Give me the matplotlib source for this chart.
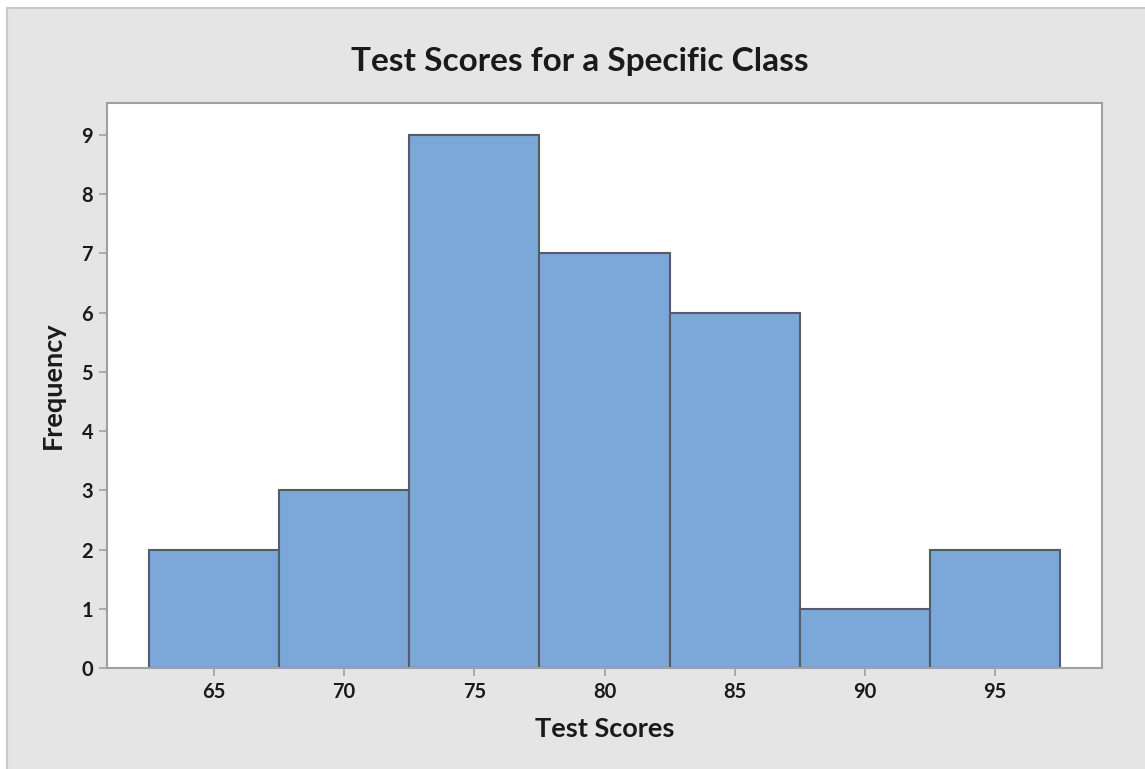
import matplotlib
matplotlib.use("Agg")
import matplotlib.pyplot as plt
from matplotlib.patches import Rectangle

bin_centers = [65, 70, 75, 80, 85, 90, 95]
frequencies = [2, 3, 9, 7, 6, 1, 2]
x_ticks = [65, 70, 75, 80, 85, 90, 95]
y_ticks = [0, 1, 2, 3, 4, 5, 6, 7, 8, 9]
title = "Test Scores for a Specific Class"
xlabel = "Test Scores"
ylabel = "Frequency"

plt.rcParams['font.family'] = ['Lato', 'DejaVu Sans']

W, H = 1145, 769
fig = plt.figure(figsize=(W / 100, H / 100), dpi=100, facecolor='white')
# outer gray panel with border at top/left
fig.patches.append(Rectangle((7 / W, -0.05), 1.2, 1 - 8 / H + 0.05, transform=fig.transFigure,
                             facecolor='#e5e5e5', edgecolor='#c9c9c9', linewidth=1.5, zorder=-5))

ax = fig.add_axes([107 / W, (H - 668) / H, (1102 - 107) / W, (668 - 103) / H])
ax.set_zorder(1)
ax.set_facecolor('white')
ax.bar(bin_centers, frequencies, width=5, align='center', color='#7ba7d9',
       edgecolor='#545c66', linewidth=1.5, zorder=2)
ax.set_xlim(60.89, 99.11)
ax.set_ylim(0, 9.54)
ax.set_xticks(x_ticks)
ax.set_yticks(y_ticks)
for s in ax.spines.values():
    s.set_color('#a0a0a0')
    s.set_linewidth(1.5)
ax.tick_params(axis='both', colors='#a0a0a0', length=6, width=1.2, labelcolor='#1a1a1a',
               labelsize=14.5, pad=4)
for lab in ax.get_xticklabels() + ax.get_yticklabels():
    lab.set_fontweight('bold')
ax.set_xlabel(xlabel, fontsize=19.5, fontweight='bold', color='#1a1a1a', labelpad=11)
ax.set_ylabel(ylabel, fontsize=19.5, fontweight='bold', color='#1a1a1a', labelpad=12)
fig.text(580 / W, 1 - 62 / H, title, ha='center', va='center', fontsize=24,
         fontweight='bold', color='#1a1a1a')

fig.savefig('out.png', dpi=100, facecolor=fig.get_facecolor())
